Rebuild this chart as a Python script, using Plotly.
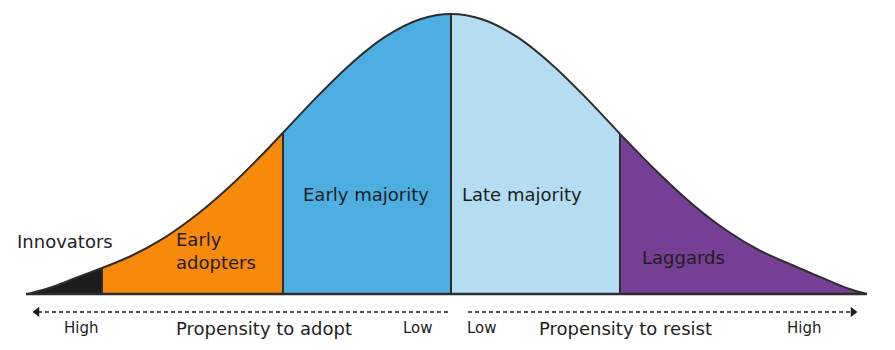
import plotly.graph_objects as go

# ---- data ----
curve_x = [28, 53, 77, 102, 130, 163, 197, 230, 260, 283, 315, 350, 385, 420, 451,
           482, 517, 552, 587, 620, 655, 693, 727, 760, 795, 820, 835, 852, 867]
curve_y = [0, 2.6, 5.9, 9.3, 13.4, 19.8, 28.4, 38.5, 49.0, 57.6, 69.7, 81.9, 91.8, 98.1, 100,
           98.1, 91.8, 81.9, 69.7, 57.2, 44.4, 31.9, 22.6, 15.5, 9.9, 6.1, 3.8, 1.5, 0]
segments = ["Innovators", "Early adopters", "Early majority", "Late majority", "Laggards"]
seg_labels = ["Innovators", "Early<br>adopters", "Early majority", "Late majority", "Laggards"]
boundaries = [28, 102, 283, 451, 620, 867]
seg_colors = ["#1c1c1c", "#f7890b", "#4daee2", "#b4ddf2", "#763f95"]

adopt_labels = ["High", "Propensity to adopt", "Low"]
resist_labels = ["Low", "Propensity to resist", "High"]

# ---- styling / placement ----
OUT = "#2d2d2d"
TXT = "#1e1e1e"
FONT = "DejaVu Sans"
label_pos = [  # x, y, xanchor
    (15, 18.9, "left"),
    (174, 15.2, "left"),
    (366, 35.4, "center"),
    (522, 35.4, "center"),
    (683, 13.2, "center"),
]
arrow_y = -6.4
text_y = -12.3

fig = go.Figure()

for i, name in enumerate(segments):
    lo, hi = boundaries[i], boundaries[i + 1]
    xs = [x for x in curve_x if lo <= x <= hi]
    ys = [y for x, y in zip(curve_x, curve_y) if lo <= x <= hi]
    fig.add_trace(go.Scatter(x=xs, y=ys, mode="lines", fill="tozeroy",
                             fillcolor=seg_colors[i],
                             line=dict(color=seg_colors[i], width=0, shape="spline"),
                             name=name, hoverinfo="skip"))

# boundary lines
for b in boundaries[1:-1]:
    h = curve_y[curve_x.index(b)]
    fig.add_trace(go.Scatter(x=[b, b], y=[0, h], mode="lines",
                             line=dict(color=OUT, width=2), hoverinfo="skip"))

# outline
fig.add_trace(go.Scatter(x=curve_x, y=curve_y, mode="lines",
                         line=dict(color=OUT, width=2, shape="spline"), hoverinfo="skip"))
# baseline
fig.add_trace(go.Scatter(x=[boundaries[0] - 2, boundaries[-1]], y=[0, 0], mode="lines",
                         line=dict(color=OUT, width=2.5), hoverinfo="skip"))

# dashed arrows
fig.add_trace(go.Scatter(x=[448, 38], y=[arrow_y, arrow_y], mode="lines",
                         line=dict(color=TXT, width=1.5, dash="4px,3px"), hoverinfo="skip"))
fig.add_trace(go.Scatter(x=[37], y=[arrow_y], mode="markers",
                         marker=dict(symbol="triangle-left", size=9, color=TXT), hoverinfo="skip"))
fig.add_trace(go.Scatter(x=[468, 852], y=[arrow_y, arrow_y], mode="lines",
                         line=dict(color=TXT, width=1.5, dash="4px,3px"), hoverinfo="skip"))
fig.add_trace(go.Scatter(x=[853], y=[arrow_y], mode="markers",
                         marker=dict(symbol="triangle-right", size=9, color=TXT), hoverinfo="skip"))

annotations = []
for (x, y, xa), t in zip(label_pos, seg_labels):
    annotations.append(dict(x=x, y=y, text=t, xanchor=xa, yanchor="middle", showarrow=False,
                            align="left", font=dict(family=FONT, size=18, color=TXT)))

bottom = [(81, adopt_labels[0], 15), (264, adopt_labels[1], 18), (418, adopt_labels[2], 15),
          (482, resist_labels[0], 15), (625, resist_labels[1], 18), (804, resist_labels[2], 15)]
for x, t, s in bottom:
    annotations.append(dict(x=x, y=text_y, text=t, xanchor="center", yanchor="middle",
                            showarrow=False, font=dict(family=FONT, size=s, color=TXT)))

fig.update_layout(
    width=895, height=350,
    margin=dict(l=0, r=0, t=0, b=0),
    paper_bgcolor="white", plot_bgcolor="white",
    showlegend=False,
    xaxis=dict(range=[0, 895], visible=False, fixedrange=True),
    yaxis=dict(range=[-20, 105], visible=False, fixedrange=True),
    annotations=annotations,
)

fig.write_html("out.html")
